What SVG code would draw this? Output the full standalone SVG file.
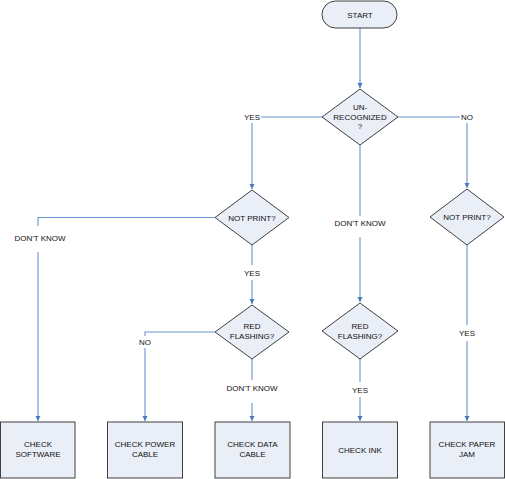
<svg xmlns="http://www.w3.org/2000/svg" width="505" height="479" viewBox="0 0 505 479">
<style>
.shape{fill:#E9EEF7;stroke:#404040;stroke-width:1}
.conn{fill:none;stroke:#6B94D0;stroke-width:1.1}
text{font-family:"Liberation Sans",Arial,sans-serif;font-size:8px;fill:#111;text-anchor:middle}
</style>
<defs>
<marker id="arr" markerUnits="userSpaceOnUse" markerWidth="6" markerHeight="6" viewBox="0 0 6 6" refX="5" refY="3" orient="auto">
<path d="M0,0.5 L5,3 L0,5.5 Z" fill="#4A78BD"/>
</marker>
</defs>
<rect width="505" height="479" fill="#fff"/>
<g id="connectors">
<path class="conn" d="M360,28 V88" marker-end="url(#arr)"/>
<path class="conn" d="M322,117 H261"/>
<path class="conn" d="M252,123 V189" marker-end="url(#arr)"/>
<path class="conn" d="M398,117 H460"/>
<path class="conn" d="M467,123 V188" marker-end="url(#arr)"/>
<path class="conn" d="M360,145 V216"/>
<path class="conn" d="M360,237 V302" marker-end="url(#arr)"/>
<path class="conn" d="M215,217.5 H38 V226"/>
<path class="conn" d="M38,252 V421" marker-end="url(#arr)"/>
<path class="conn" d="M252,245 V265"/>
<path class="conn" d="M252,280 V304" marker-end="url(#arr)"/>
<path class="conn" d="M215,332 H145 V336"/>
<path class="conn" d="M145,348 V421" marker-end="url(#arr)"/>
<path class="conn" d="M252,359 V380"/>
<path class="conn" d="M252,403 V421" marker-end="url(#arr)"/>
<path class="conn" d="M360,359 V382"/>
<path class="conn" d="M360,397 V421" marker-end="url(#arr)"/>
<path class="conn" d="M467,245 V325"/>
<path class="conn" d="M467,341 V421" marker-end="url(#arr)"/>
<text x="252" y="120">YES</text>
<text x="467" y="120">NO</text>
<text x="360" y="226">DON'T KNOW</text>
<text x="40" y="241">DON'T KNOW</text>
<text x="252" y="276">YES</text>
<text x="145" y="345">NO</text>
<text x="252" y="391">DON'T KNOW</text>
<text x="360" y="393">YES</text>
<text x="467" y="336">YES</text>
</g>
<g id="start">
<rect class="shape" x="322" y="1" width="75" height="27" rx="13.5"/>
<text x="360" y="17.5">START</text>
</g>
<g id="unrecognized">
<polygon class="shape" points="360,89 398,117 360,145 322,117"/>
<text x="360" y="110">UN-</text>
<text x="360" y="119.5">RECOGNIZED</text>
<text x="360" y="129">?</text>
</g>
<g id="notprint-left">
<polygon class="shape" points="252,190 289,217.5 252,245 215,217.5"/>
<text x="252" y="220.5">NOT PRINT?</text>
</g>
<g id="notprint-right">
<polygon class="shape" points="467,189 504,217 467,245 430,217"/>
<text x="467" y="220">NOT PRINT?</text>
</g>
<g id="redflash-left">
<polygon class="shape" points="252,305 289,332 252,359 215,332"/>
<text x="252" y="329">RED</text>
<text x="252" y="339">FLASHING?</text>
</g>
<g id="redflash-mid">
<polygon class="shape" points="360,303 398,331 360,359 322,331"/>
<text x="360" y="329">RED</text>
<text x="360" y="339">FLASHING?</text>
</g>
<g id="check-software">
<rect class="shape" x="0.5" y="422" width="74.5" height="56"/>
<text x="38" y="447">CHECK</text>
<text x="38" y="457">SOFTWARE</text>
</g>
<g id="check-power">
<rect class="shape" x="107.5" y="422" width="75" height="56"/>
<text x="145" y="447">CHECK POWER</text>
<text x="145" y="457">CABLE</text>
</g>
<g id="check-data">
<rect class="shape" x="215" y="422" width="75" height="56"/>
<text x="252.5" y="447">CHECK DATA</text>
<text x="252.5" y="457">CABLE</text>
</g>
<g id="check-ink">
<rect class="shape" x="322.5" y="422" width="75" height="56"/>
<text x="360" y="453">CHECK INK</text>
</g>
<g id="check-paper">
<rect class="shape" x="430" y="422" width="74.5" height="56"/>
<text x="467" y="447">CHECK PAPER</text>
<text x="467" y="457">JAM</text>
</g>
</svg>
